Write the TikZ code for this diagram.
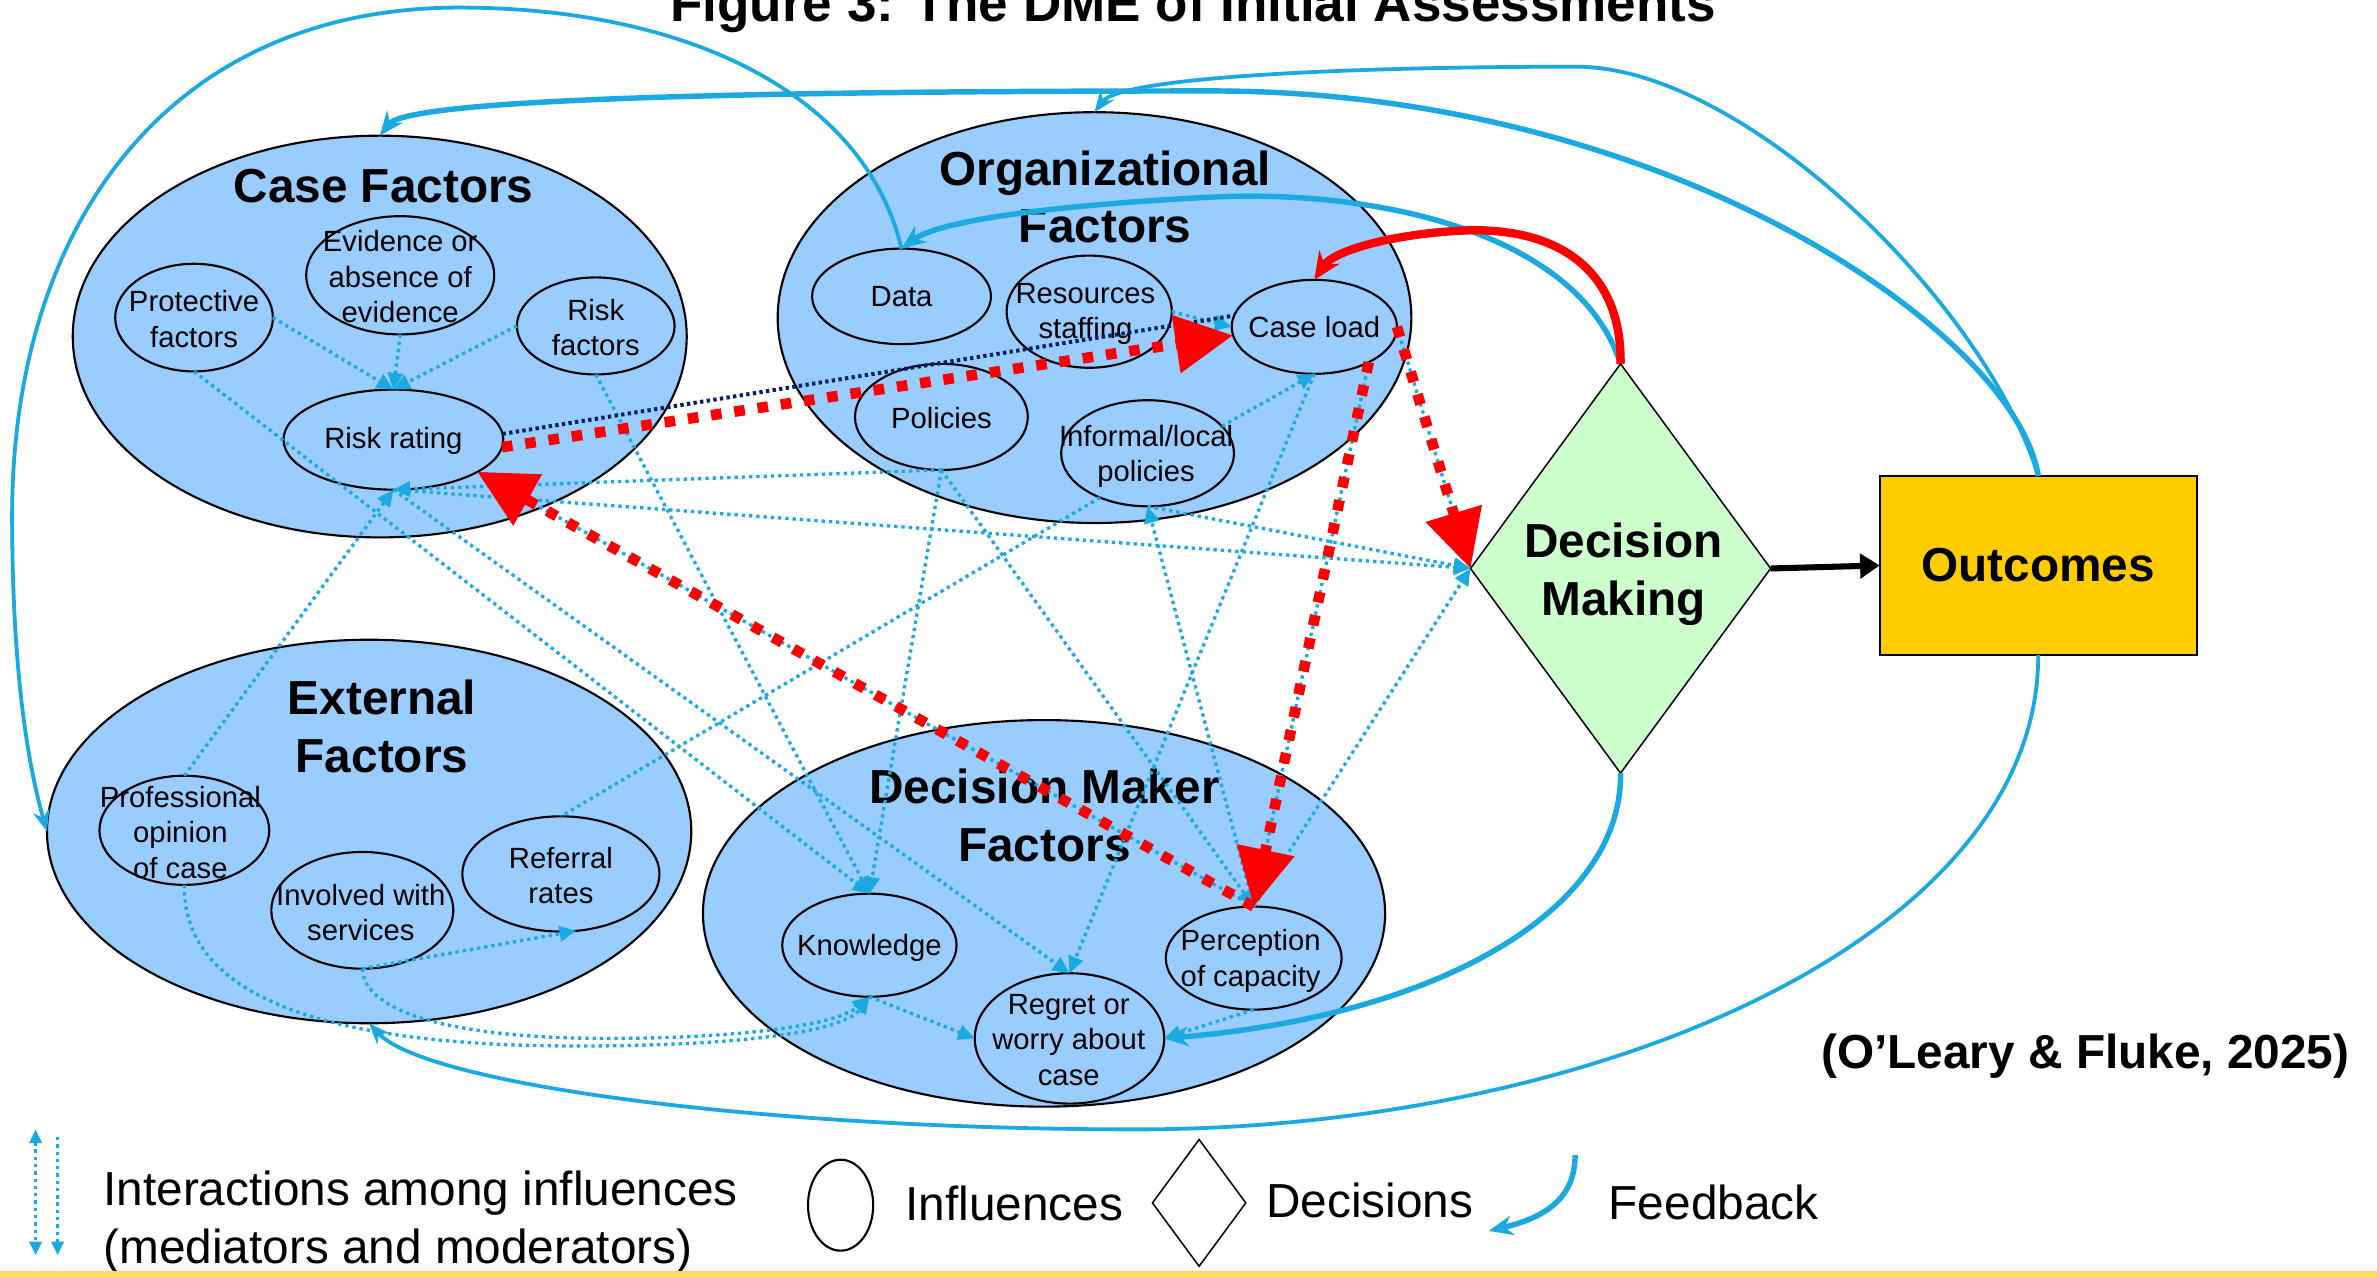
\documentclass[tikz,border=0pt]{standalone}
\usepackage{fontspec}
\setmainfont{Liberation Sans}
\usetikzlibrary{shapes.geometric,arrows.meta}
\definecolor{fillblue}{RGB}{153,204,255}
\definecolor{lineblue}{RGB}{27,169,225}
\definecolor{dmgreen}{RGB}{204,255,204}
\definecolor{outgold}{RGB}{255,204,0}
\definecolor{navyc}{RGB}{0,32,96}
\definecolor{bandyellow}{RGB}{255,217,102}
\begin{document}
\begin{tikzpicture}[x=1pt,y=-1pt,
  bigell/.style={ellipse, draw, fill=fillblue, line width=1.4pt, inner sep=0pt, outer sep=0pt},
  smell/.style={ellipse, draw, fill=fillblue, line width=1.4pt, inner sep=0pt, outer sep=0pt},
  bigtxt/.style={font=\fontsize{31.5}{38}\selectfont\bfseries, align=center, inner sep=0pt},
  smtxt/.style={font=\fontsize{19.3}{23.5}\selectfont, align=center, inner sep=0pt},
  legtxt/.style={font=\fontsize{31.5}{38}\selectfont, align=left, inner sep=0pt, anchor=west},
  dotblue/.style={lineblue, line width=2.2pt, dash pattern=on 2.2pt off 2.6pt, -{Triangle[length=11pt,width=10pt]}},
  reddash/.style={red, line width=7pt, dash pattern=on 7pt off 8.5pt, -{Triangle[length=38pt,width=37pt]}},
  fbthin/.style={lineblue, line width=2.5pt, -{Stealth[length=14pt,width=11pt]}},
  fbthick/.style={lineblue, line width=3.6pt, -{Stealth[length=16pt,width=13pt]}},
  navydot/.style={navyc, line width=2.6pt, dash pattern=on 2.2pt off 2.2pt},
  redcurve/.style={red, line width=5.5pt, -{Stealth[length=18pt,width=16pt]}}
]
\useasboundingbox (0,0) rectangle (1568,843);
\fill[white] (0,0) rectangle (1568,843);

% title (clipped at the top, as in the reference)
\node[font=\fontsize{35}{42}\selectfont\bfseries, anchor=base, inner sep=0pt] (title) at (787,14) {Figure 3: The DME of Initial Assessments};

% big groups
\node[bigell, minimum width=405pt, minimum height=265pt] (cf) at (250.5,222) {};
\node[bigell, minimum width=418pt, minimum height=271pt] (org) at (722,209.5) {};
\node[bigell, minimum width=425pt, minimum height=253pt] (ext) at (243.5,548.5) {};
\node[bigell, minimum width=450pt, minimum height=255pt] (dmf) at (688.7,602.5) {};

\node[bigtxt] (cflab) at (253,123) {Case Factors};
\node[bigtxt] (orglab) at (729,130) {Organizational\\Factors};
\node[bigtxt] (extlab) at (252,479) {External\\Factors};
\node[bigtxt] (dmflab) at (689,538) {Decision Maker\\Factors};

% small influences
\node[smell, minimum width=104pt, minimum height=71pt] (prot) at (128,209.5) {};
\node[smell, minimum width=124pt, minimum height=78pt] (evid) at (264,181.6) {};
\node[smell, minimum width=104pt, minimum height=64pt] (rf) at (393,215) {};
\node[smell, minimum width=145pt, minimum height=66pt] (rr) at (259.5,290) {};
\node[smell, minimum width=118pt, minimum height=63pt] (data) at (594.7,195.5) {};
\node[smell, minimum width=109pt, minimum height=74pt] (res) at (718.5,205.6) {};
\node[smell, minimum width=109pt, minimum height=62pt] (cl) at (867,215.6) {};
\node[smell, minimum width=114pt, minimum height=70pt] (pol) at (621,275) {};
\node[smell, minimum width=114pt, minimum height=70pt] (inf) at (757,299) {};
\node[smell, minimum width=112pt, minimum height=72pt] (prof) at (121.6,547.7) {};
\node[smell, minimum width=120pt, minimum height=77pt] (inv) at (239,600.5) {};
\node[smell, minimum width=130pt, minimum height=76pt] (ref) at (370,576.5) {};
\node[smell, minimum width=115pt, minimum height=68pt] (kn) at (573.5,623.5) {};
\node[smell, minimum width=125pt, minimum height=86pt] (reg) at (705.5,685) {};
\node[smell, minimum width=116pt, minimum height=68pt] (perc) at (827,632) {};

\node[smtxt] at (128,210.5) {Protective\\factors};
\node[smtxt] at (264,182.6) {Evidence or\\absence of\\evidence};
\node[smtxt] at (393,216) {Risk\\factors};
\node[smtxt] at (259.5,291) {Risk rating};
\node[smtxt] at (data) {Data};
\node[smtxt] at (716,207) {Resources\\staffing};
\node[smtxt] at (cl) {Case load};
\node[smtxt] at (621,276) {Policies};
\node[smtxt] at (756,301) {Informal/local\\policies};
\node[smtxt] at (119,549) {Professional\\opinion\\of case};
\node[smtxt] at (238,602) {Involved with\\services};
\node[smtxt] at (370,577.5) {Referral\\rates};
\node[smtxt] at (573.5,625) {Knowledge};
\node[smtxt] at (705,686) {Regret or\\worry about\\case};
\node[smtxt] at (825,634) {Perception\\of capacity};

% decision and outcome
\node[diamond, draw, fill=dmgreen, line width=1pt, inner sep=0pt, outer sep=0pt, minimum width=198pt, minimum height=270pt] (dm) at (1069,375) {};
\node[bigtxt] (dmlab) at (1071,379) {Decision\\Making};
\node[rectangle, draw, fill=outgold, line width=1.4pt, minimum width=209pt, minimum height=118pt, outer sep=0pt, font=\fontsize{31.5}{38}\selectfont\bfseries] (out) at (1344.5,373) {Outcomes};
\draw[black, line width=4pt, -{Triangle[length=13pt,width=16pt]}] (dm.east) -- (out.west);

% interactions (dotted)
\draw[dotblue] (prot.east) -- (rr.north);
\draw[dotblue] (evid.south) -- (rr.north);
\draw[dotblue] (rf.west) -- (rr.north);
\draw[dotblue] (prot.south) -- (kn.north);
\draw[dotblue] (rf.south) -- (kn.north);
\draw[dotblue] (pol.south) -- (kn.north);
\draw[dotblue] (res.east) -- (cl.west);
\draw[dotblue] (inf.20) -- (cl.south);
\draw[dotblue] (cl.south) -- (reg.north);
\draw[dotblue] (perc.north) -- (inf.south);
\draw[dotblue, -] (inf.223) -- (ref.north);
\draw[dotblue] (pol.south) -- (perc.north);
\draw[dotblue] (rr.south) -- (dm.west);
\draw[dotblue] (pol.south) -- (rr.south);
\draw[dotblue] (prof.north) -- (rr.south);
\draw[dotblue] (inf.south) -- (dm.west);
\draw[dotblue] (perc.north) -- (dm.west);
\draw[dotblue] (rr.south) -- (reg.north);
\draw[dotblue] (cl.east) -- (dm.west);
\draw[dotblue] (cl.-33) -- (perc.north);
\draw[dotblue] (perc.north) -- (rr.-21);
\draw[dotblue] (kn.south) -- (reg.west);
\draw[dotblue] (perc.south) -- (reg.east);
\draw[dotblue] (inv.south) -- (ref.-75);
\draw[dotblue] (prof.south) .. controls (120,670) and (250,690) .. (380,690) .. controls (480,690) and (555,682) .. (kn.south);
\draw[dotblue] (inv.south) .. controls (240,668) and (300,685) .. (400,685) .. controls (490,685) and (552,676) .. (kn.south);

% feedback (solid)
\draw[fbthin] (data.north) .. controls (570,60) and (450,5) .. (303,5) .. controls (110,5) and (8,150) .. (8,340) .. controls (8,450) and (20,510) .. (ext.west);
\draw[fbthin] (out.north) .. controls (1310,200) and (1150,44) .. (1040,44) .. controls (900,44) and (740,50) .. (org.north);
\draw[fbthick] (out.north) .. controls (1330,220) and (1100,60) .. (800,60) .. controls (500,60) and (270,65) .. (cf.north);
\draw[fbthick] (dm.north) .. controls (1040,150) and (900,125) .. (800,130) .. controls (700,135) and (620,145) .. (data.north);
\draw[fbthick] (dm.south) .. controls (1070,600) and (950,670) .. (reg.east);
\draw[fbthin] (out.south) .. controls (1345,620) and (1050,745) .. (750,745) .. controls (500,745) and (280,715) .. (ext.south);

% main pathway
\draw[navydot] (rr.3) -- (cl.172);
\draw[reddash] (rr.-4) -- (cl.186);
\draw[reddash] (perc.north) -- (rr.-21);
\draw[reddash] (cl.east) -- (dm.west);
\draw[reddash] (cl.-33) -- (perc.north);
\draw[redcurve] (dm.north) .. controls (1070,180) and (1030,150) .. (967,152) .. controls (920,154) and (880,165) .. (cl.north);

% citation
\node[font=\fontsize{31.5}{38}\selectfont\bfseries, anchor=east, inner sep=0pt] (cite) at (1550,697) {(O’Leary \& Fluke, 2025)};

% legend
\coordinate (lga1) at (23.5,745);
\coordinate (lga2) at (23.5,828);
\coordinate (lgb1) at (38,750);
\coordinate (lgb2) at (38,828);
\draw[dotblue, {Triangle[length=9pt,width=8pt]}-{Triangle[length=9pt,width=8pt]}] (lga1) -- (lga2);
\draw[dotblue, -{Triangle[length=9pt,width=8pt]}] (lgb1) -- (lgb2);
\node[legtxt] (lgt1) at (68,806) {Interactions among influences\\(mediators and moderators)};
\node[ellipse, draw, line width=1.4pt, inner sep=0pt, minimum width=43pt, minimum height=60pt] (lgell) at (554.5,795) {};
\node[legtxt] (lgt2) at (597,794) {Influences};
\node[diamond, draw, line width=1pt, inner sep=0pt, minimum width=62pt, minimum height=84pt] (lgdia) at (791,793.5) {};
\node[legtxt] (lgt3) at (835,792) {Decisions};
\coordinate (lgf1) at (1039,762);
\coordinate (lgf2) at (982,812);
\draw[fbthick] (lgf1) .. controls (1039,790) and (1020,803) .. (lgf2);
\node[legtxt] (lgt4) at (1061,793) {Feedback};

% bottom band
\fill[bandyellow] (0,838.5) rectangle (1568,843);
\end{tikzpicture}
\end{document}
